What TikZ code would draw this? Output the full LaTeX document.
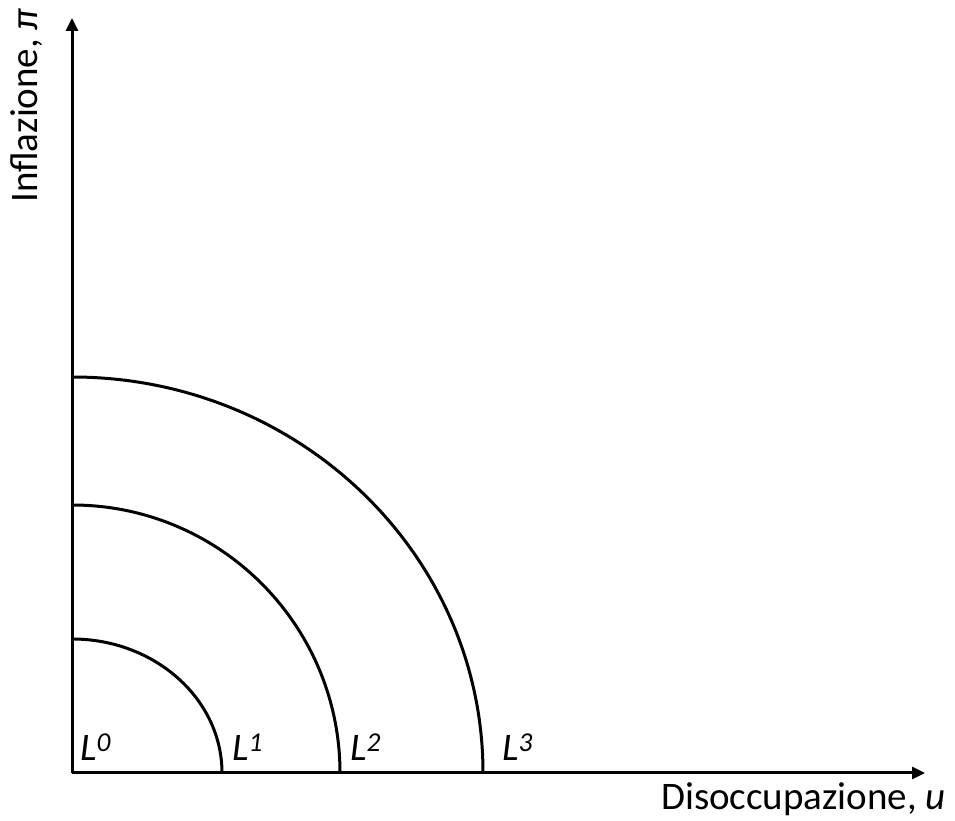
\documentclass[tikz,border=0pt]{standalone}
\usepackage{fontspec}
\setmainfont{Carlito}
\usetikzlibrary{arrows.meta}
\tikzset{
  axis/.style={line width=3pt, -{Triangle[length=13pt,width=12pt]}},
  curve/.style={line width=3pt},
  lab/.style={inner sep=0pt, font=\fontsize{39}{47}\selectfont},
}
\begin{document}
\begin{tikzpicture}[x=1pt, y=1pt]
  \useasboundingbox (0,0) rectangle (955,821);
  % axes
  \coordinate (O) at (72,48);
  \coordinate (ytip) at (72,803);
  \coordinate (xtip) at (925,48);
  \draw[axis] (O) -- (ytip);
  \draw[axis] (O) -- (xtip);
  \node[lab, rotate=90, anchor=base west] (ylab) at (37,618) {Inflazione, \textit{π}};
  \node[lab, anchor=base west] (xlab) at (661,11) {Disoccupazione, \textit{u}};
  % curves
  \coordinate (c1) at (222,48);
  \coordinate (c2) at (340,48);
  \coordinate (c3) at (483,48);
  \draw[curve] (c1) arc[start angle=0, end angle=90, x radius=150, y radius=134];
  \draw[curve] (c2) arc[start angle=0, end angle=90, x radius=268, y radius=268];
  \draw[curve] (c3) arc[start angle=0, end angle=90, x radius=411, y radius=396];
  % labels
  \node[lab, anchor=base west] (l0) at (80,60) {\textit{L\textsuperscript{0}}};
  \node[lab, anchor=base west] (l1) at (232,60) {\textit{L\textsuperscript{1}}};
  \node[lab, anchor=base west] (l2) at (350,60) {\textit{L\textsuperscript{2}}};
  \node[lab, anchor=base west] (l3) at (502,60) {\textit{L\textsuperscript{3}}};
\end{tikzpicture}
\end{document}
